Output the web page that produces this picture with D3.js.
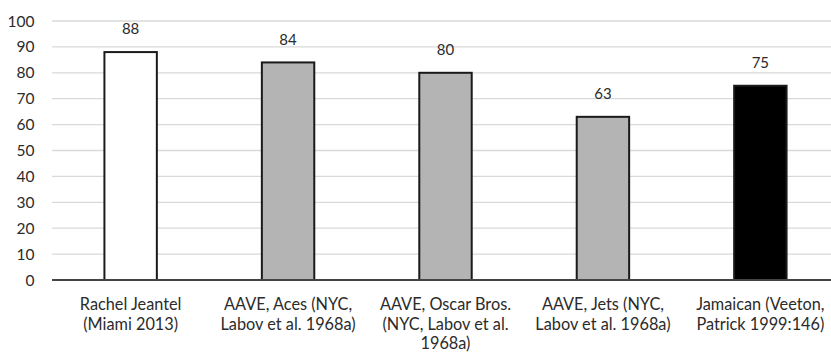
<!DOCTYPE html>
<html><head><meta charset="utf-8">
<script src="https://cdn.jsdelivr.net/npm/d3@7"></script>
<style>body{margin:0;background:#fff}svg{display:block}</style>
</head><body>
<svg id="c" width="831" height="353"></svg>
<script>
const categories = [
  ["Rachel Jeantel", "(Miami 2013)"],
  ["AAVE, Aces (NYC,", "Labov et al. 1968a)"],
  ["AAVE, Oscar Bros.", "(NYC, Labov et al.", "1968a)"],
  ["AAVE, Jets (NYC,", "Labov et al. 1968a)"],
  ["Jamaican (Veeton,", "Patrick 1999:146)"]
];
const values = [88, 84, 80, 63, 75];
const fills = ["#ffffff", "#b4b4b4", "#b4b4b4", "#b4b4b4", "#000000"];
const yTicks = [0, 10, 20, 30, 40, 50, 60, 70, 80, 90, 100];

const svg = d3.select("#c");
const font = "Lato, 'Open Sans', sans-serif";
const x = d3.scaleBand().domain(d3.range(categories.length)).range([52, 839]).paddingInner(0.667).paddingOuter(0.333);
const y = d3.scaleLinear().domain([0, 100]).range([280, 21]);

svg.append("g").selectAll("line").data(yTicks.filter(d => d > 0)).join("line")
  .attr("x1", 52).attr("x2", 831).attr("y1", d => y(d)).attr("y2", d => y(d))
  .attr("stroke", "#d9d9d9").attr("stroke-width", 1.3);

svg.append("g").selectAll("text").data(yTicks).join("text")
  .attr("x", 34.5).attr("y", d => y(d)).attr("dy", "0.36em")
  .attr("text-anchor", "end").attr("font-family", font).attr("font-size", 15.5)
  .attr("fill", "#2b2b2b").text(d => d);

svg.append("g").selectAll("rect").data(values).join("rect")
  .attr("x", (d, i) => x(i)).attr("width", x.bandwidth())
  .attr("y", d => y(d)).attr("height", d => y(0) - y(d))
  .attr("fill", (d, i) => fills[i]).attr("stroke", "#1a1a1a").attr("stroke-width", 2);

svg.append("line").attr("x1", 52).attr("x2", 831).attr("y1", y(0)).attr("y2", y(0))
  .attr("stroke", "#444").attr("stroke-width", 2);

svg.append("g").selectAll("text").data(values).join("text")
  .attr("x", (d, i) => x(i) + x.bandwidth() / 2).attr("y", d => y(d) - 23).attr("dy", "0.36em")
  .attr("text-anchor", "middle").attr("font-family", font).attr("font-size", 15)
  .attr("fill", "#2b2b2b").text(d => d);

const cat = svg.append("g").selectAll("text").data(categories).join("text")
  .attr("text-anchor", "middle").attr("font-family", font).attr("font-size", 16.3).attr("fill", "#2b2b2b")
  .attr("transform", (d, i) => `translate(${x(i) + x.bandwidth() / 2},310)`);
cat.selectAll("tspan").data(d => d).join("tspan")
  .attr("x", 0).attr("y", (d, j) => j * 19.6).text(d => d);
</script>
</body></html>
